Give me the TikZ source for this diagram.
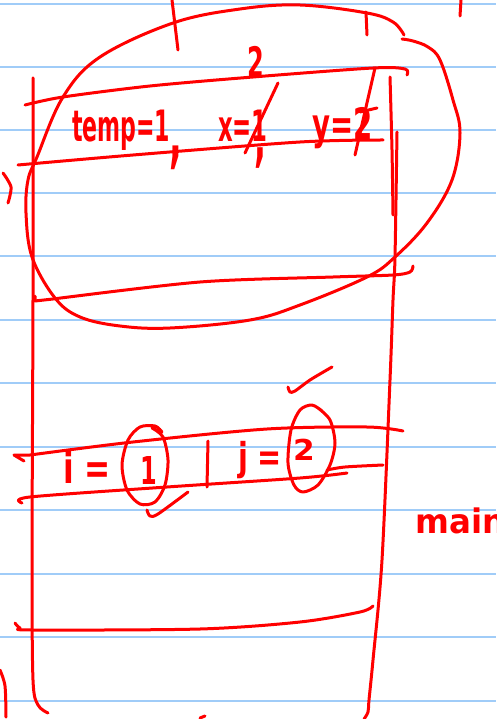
\documentclass[tikz,border=0pt]{standalone}
\usepackage{fontspec}
\setmainfont{DejaVu Sans}
\definecolor{inkred}{RGB}{255,0,0}
\definecolor{paperblue}{RGB}{160,204,248}
\newcommand{\handtxt}[3]{\scalebox{#1}[#2]{#3}}
\begin{document}
\begin{tikzpicture}[x=1pt,y=-1pt,
  paperline/.style={draw=paperblue,line width=2pt},
  inkline/.style={draw=inkred,line width=3pt,line cap=round,line join=round},
  handtext/.style={text=inkred,font=\fontsize{24}{24}\selectfont\bfseries,inner sep=0pt,outer sep=0pt}]
\useasboundingbox (0,0) rectangle (496,719);
\clip (0,0) rectangle (496,719);
\fill[white] (0,0) rectangle (496,719);
% ruled paper
\foreach \yy in {4,67,130,193,256,320,383,447,510,574,637,701}
  \draw[paperline] (0,\yy) -- (496,\yy);

% top ticks
\draw[inkline] (172,0) -- (175,25) -- (178,50);
\draw[inkline] (366,12) -- (367,35);
\draw[inkline] (461,0) -- (460,16);

% big loop
\draw[inkline] plot[smooth,tension=0.6] coordinates {(404,35) (393,22) (367,13) (300,5) (240,9) (173,23) (100,57) (63,97) (37,157) (28,180) (26,213) (32,257) (55,298) (80,317) (120,326) (170,328) (250,320) (300,305) (367,277) (395,257) (427,223) (452,180) (460,133) (453,100) (440,60) (428,47) (413,41) (402,39)};

% left border
\draw[inkline] plot[smooth,tension=0.5] coordinates {(33,78) (33,300) (32,560) (33,680) (38,705) (48,713)};
% right border (double)
\draw[inkline] plot[smooth] coordinates {(390,77) (392,150) (393,215)};
\draw[inkline] plot[smooth,tension=0.5] coordinates {(397,132) (395,257) (393,300) (390,380) (382,560) (373,660) (369,700) (368,712) (364,719)};

% temp box lines
\draw[inkline] plot[smooth] coordinates {(25,105) (63,97) (150,86) (253,77) (373,68) (405,69) (407,75)};
\draw[inkline] plot[smooth] coordinates {(18,165) (133,155) (300,142) (383,140)};
% left small arc
\draw[inkline] plot[smooth] coordinates {(3,173) (11,187) (8,203)};
% bottom of upper frame
\draw[inkline] (35,296) -- (35,301) -- plot[smooth] coordinates {(53,299) (200,282) (333,277) (393,275) (410,272) (413,266)};

% temp row text
\node[handtext,anchor=base west] (temp) at (72,142) {\handtxt{0.92}{1.8}{temp=1}};
\node[handtext,anchor=base] (comA) at (176,160) {\handtxt{1.4}{3}{,}};
\node[handtext,anchor=base west] (xval) at (218,142) {\handtxt{0.95}{1.8}{x=1}};
\node[handtext,anchor=base] (comB) at (260,160) {\handtxt{1.3}{2.6}{,}};
\node[handtext,anchor=base west] (yval) at (312,140) {\handtxt{1.15}{1.8}{y=2}};
\node[handtext] (newx) at (256,62) {\handtxt{1}{1.75}{2}};
\draw[inkline] (278,83) -- (245,153);
\draw[inkline] (375,68) -- (355,155);
\draw[inkline] (360,112) -- (377,108);

% i / j row lines
\draw[inkline] (24,461) -- (14,455) -- plot[smooth] coordinates {(30,455) (133,442) (267,429) (367,427) (403,431)};
\draw[inkline] plot[smooth] coordinates {(22,503) (30,497) (167,487) (300,478) (347,473)};
\draw[inkline] plot[smooth] coordinates {(327,470) (345,467) (383,465)};

% i / j text
\node[handtext,anchor=base west] (ieq) at (63,483) {\handtxt{1.3}{1.8}{i =}};
\node[handtext] (ione) at (149,470) {\handtxt{1}{1.6}{1}};
\draw[inkline] (208,441) -- (207,487);
\node[handtext,anchor=base west] (jeq) at (238,470) {\handtxt{1.2}{1.6}{j =}};
\node[handtext] (jtwo) at (304,450) {\handtxt{1.3}{1.2}{2}};

% circles round the values
\draw[inkline] plot[smooth] coordinates {(162,432) (155,426) (140,427) (128,440) (122,465) (127,490) (140,504) (155,502) (165,485) (168,460) (163,437) (152,428)};
\draw[inkline] plot[smooth] coordinates {(322,411) (312,405) (300,410) (291,430) (288,463) (294,485) (303,492) (318,485) (330,465) (335,443) (330,420) (318,408)};

% check marks
\draw[inkline] plot[smooth] coordinates {(147,510) (150,516) (158,514) (188,492)};
\draw[inkline] plot[smooth] coordinates {(288,387) (290,392) (295,391) (310,380) (332,367)};

% main label
\node[text=inkred,font=\fontsize{26}{26}\selectfont\bfseries,inner sep=0pt,anchor=base west] (mainlbl) at (415,533) {\handtxt{1.25}{1.3}{main}};

% bottom line of frame
\draw[inkline] plot[smooth] coordinates {(15,623) (20,628) (32,630) (200,629) (300,622) (360,612) (373,606)};
% bottom-left arc and bottom mark
\draw[inkline] plot[smooth] coordinates {(0,670) (5,686) (6,717)};
\draw[inkline] (200,718) -- (205,716);
\end{tikzpicture}
\end{document}
